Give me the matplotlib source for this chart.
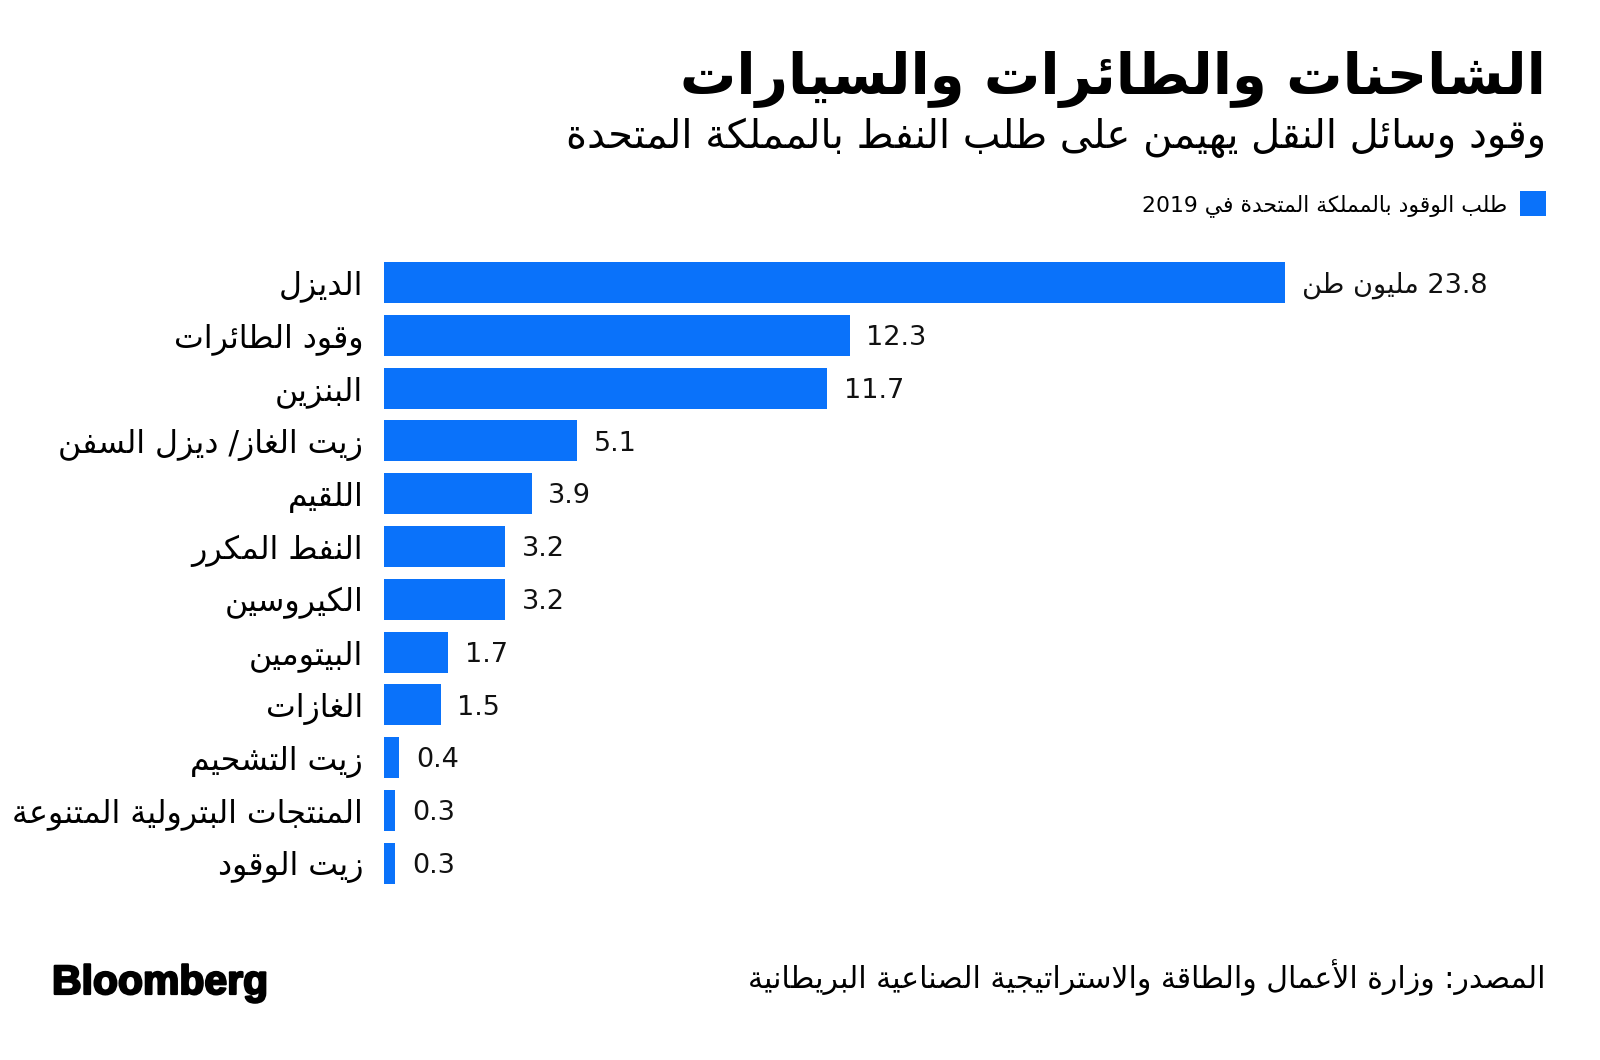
import re
import matplotlib
matplotlib.use('Agg')
import matplotlib.pyplot as plt
from matplotlib.patches import Rectangle
import matplotlib.patheffects as pe

# ---------------- data ----------------
categories = ["الديزل", "وقود الطائرات", "البنزين", "زيت الغاز/ ديزل السفن", "اللقيم",
              "النفط المكرر", "الكيروسين", "البيتومين", "الغازات", "زيت التشحيم",
              "المنتجات البترولية المتنوعة", "زيت الوقود"]
values = [23.8, 12.3, 11.7, 5.1, 3.9, 3.2, 3.2, 1.7, 1.5, 0.4, 0.3, 0.3]
value_labels = ["23.8 مليون طن", "12.3", "11.7", "5.1", "3.9", "3.2", "3.2", "1.7", "1.5", "0.4", "0.3", "0.3"]
title = "الشاحنات والطائرات والسيارات"
subtitle = "وقود وسائل النقل يهيمن على طلب النفط بالمملكة المتحدة"
legend_label = "طلب الوقود بالمملكة المتحدة في 2019"
source = "المصدر: وزارة الأعمال والطاقة والاستراتيجية الصناعية البريطانية"

# ---------------- Arabic shaping (presentation forms + visual order) ----------------
_R = {0x0622: 0xFE81, 0x0623: 0xFE83, 0x0624: 0xFE85, 0x0625: 0xFE87, 0x0627: 0xFE8D,
      0x0629: 0xFE93, 0x062F: 0xFEA9, 0x0630: 0xFEAB, 0x0631: 0xFEAD, 0x0632: 0xFEAF,
      0x0648: 0xFEED, 0x0649: 0xFEEF}
_D = {0x0626: 0xFE89, 0x0628: 0xFE8F, 0x062A: 0xFE95, 0x062B: 0xFE99, 0x062C: 0xFE9D,
      0x062D: 0xFEA1, 0x062E: 0xFEA5, 0x0633: 0xFEB1, 0x0634: 0xFEB5, 0x0635: 0xFEB9,
      0x0636: 0xFEBD, 0x0637: 0xFEC1, 0x0638: 0xFEC5, 0x0639: 0xFEC9, 0x063A: 0xFECD,
      0x0641: 0xFED1, 0x0642: 0xFED5, 0x0643: 0xFED9, 0x0644: 0xFEDD, 0x0645: 0xFEE1,
      0x0646: 0xFEE5, 0x0647: 0xFEE9, 0x064A: 0xFEF1}
_LA = {0x0622: 0xFEF5, 0x0623: 0xFEF7, 0x0625: 0xFEF9, 0x0627: 0xFEFB}


def _shape(s):
    items = []
    i = 0
    while i < len(s):
        c = ord(s[i])
        if c == 0x0644 and i + 1 < len(s) and ord(s[i + 1]) in _LA:
            items.append(('LA', _LA[ord(s[i + 1])]))
            i += 2
        else:
            items.append(('C', c))
            i += 1

    def jt(t):
        if t[0] == 'LA':
            return 'R'
        if t[1] in _D:
            return 'D'
        if t[1] in _R:
            return 'R'
        return 'U'

    out = []
    for k, t in enumerate(items):
        j = jt(t)
        pj = k > 0 and jt(items[k - 1]) == 'D'
        nj = k + 1 < len(items) and jt(items[k + 1]) in ('D', 'R')
        if t[0] == 'LA':
            out.append(chr(t[1] + (1 if pj else 0)))
        elif j == 'D':
            b = _D[t[1]]
            if pj and nj:
                out.append(chr(b + 3))
            elif pj:
                out.append(chr(b + 1))
            elif nj:
                out.append(chr(b + 2))
            else:
                out.append(chr(b))
        elif j == 'R':
            out.append(chr(_R[t[1]] + (1 if pj else 0)))
        else:
            out.append(chr(t[1]))
    return ''.join(out)


def ar(s):
    v = _shape(s)[::-1]
    return re.sub(r'[0-9A-Za-z.]+', lambda m: m.group(0)[::-1], v)


# ---------------- figure ----------------
plt.rcParams['font.family'] = ['DejaVu Sans']
W, H = 1600, 1060
fig = plt.figure(figsize=(W / 100, H / 100), dpi=100)
fig.patch.set_facecolor('white')
BLUE = '#0A72FA'


def fx(px):
    return px / W


def fy(py):
    return 1 - py / H


# axes: x=0 at 384px, 37.86 px per unit ; rows 52.8 px apart
x0, ppu = 384, 37.86
xmax = 30
row0, step = 282.5, 52.8
n = len(categories)
top = row0 - step / 2
bottom = row0 + step * (n - 1) + step / 2
ax = fig.add_axes([fx(x0), fy(bottom), xmax * ppu / W, (bottom - top) / H])
ypos = list(range(n))
ax.barh(ypos, values, height=0.78, color=BLUE, zorder=2)
ax.set_xlim(0, xmax)
ax.set_ylim(n - 0.5, -0.5)
ax.set_xticks([])
ax.set_yticks(ypos)
ax.set_yticklabels([ar(c) for c in categories], fontsize=18, color='black')
ax.tick_params(axis='y', length=0, pad=15)
for s in ax.spines.values():
    s.set_visible(False)

for i, (v, lab) in enumerate(zip(values, value_labels)):
    ax.annotate(ar(lab), xy=(v, i), xytext=(12, -2), textcoords='offset points',
                ha='left', va='center', fontsize=19.5, color='#111111')

# texts
t_title = fig.text(fx(1546), fy(94), ar(title), ha='right', va='baseline',
                   fontsize=40, fontweight='bold', color='black')
t_sub = fig.text(fx(1546), fy(148), ar(subtitle), ha='right', va='baseline',
                 fontsize=26, color='black')
fig.patches.append(Rectangle((fx(1520), fy(216)), 26 / W, 25 / H, transform=fig.transFigure,
                             facecolor=BLUE, edgecolor='none', figure=fig))
t_leg = fig.text(fx(1507), fy(211), ar(legend_label), ha='right', va='baseline',
                 fontsize=14, color='black')
t_src = fig.text(fx(1546), fy(988), ar(source), ha='right', va='baseline',
                 fontsize=20, color='black')
t_bb = fig.text(fx(52), fy(994), "Bloomberg", ha='left', va='baseline',
                fontsize=26, fontweight='bold', color='black',
                family=['Liberation Sans', 'DejaVu Sans'],
                path_effects=[pe.withStroke(linewidth=1.6, foreground='black')])

# fit text widths to reference widths
fig.canvas.draw()
r = fig.canvas.get_renderer()


def fit(t, target):
    w = t.get_window_extent(r).width
    t.set_fontsize(t.get_fontsize() * target / w)


fit(t_title, 864)
fit(t_sub, 980)
fit(t_leg, 369)
fit(t_src, 796)
fit(t_bb, 216)
labs = ax.get_yticklabels()
longest = labs[categories.index("المنتجات البترولية المتنوعة")]
w = longest.get_window_extent(r).width
fs = 18 * 351 / w
for lab in labs:
    lab.set_fontsize(fs)

fig.savefig('out.png', dpi=100, facecolor='white')
